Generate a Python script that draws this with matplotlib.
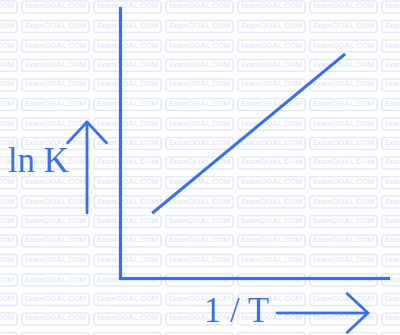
import matplotlib
matplotlib.use("Agg")
import matplotlib.pyplot as plt
from matplotlib.patches import FancyArrowPatch

# line data (arbitrary units, origin at the axes corner)
inv_T = [1.2, 8.4]
ln_K = [2.4, 8.3]
x_label = "1 / T"
y_label = "ln K"
watermark = "ExamGOAL.COM"

blue = "#3a6fec"
pale = "#e1e8f8"

fig = plt.figure(figsize=(4, 3.35), dpi=100)

# watermark tiles in the background
bg = fig.add_axes([0, 0, 1, 1])
bg.set_xlim(0, 400)
bg.set_ylim(335, 0)
bg.axis("off")
for row in range(18):
    for col in range(7):
        bg.text(-16.5 + col * 72, 7 + row * 19.5, watermark, fontsize=5.5,
                family="Liberation Sans", fontweight="bold", color=pale,
                ha="center", va="center",
                bbox=dict(boxstyle="round,pad=0.32,rounding_size=0.3", fc="none",
                          ec=pale, lw=1.0))

# main axes: only left and bottom spines
ax = fig.add_axes([0.3, 0.17, 0.67, 0.806])
ax.patch.set_alpha(0)
ax.set_xlim(0, 10)
ax.set_ylim(0, 10)
for s in ["top", "right"]:
    ax.spines[s].set_visible(False)
for s in ["left", "bottom"]:
    ax.spines[s].set_color(blue)
    ax.spines[s].set_linewidth(2.3)
ax.set_xticks([])
ax.set_yticks([])

ax.plot(inv_T, ln_K, color=blue, lw=2.2, solid_capstyle="butt")

# axis labels with arrows
fig.text(38 / 400, 1 - 164 / 335, y_label, fontsize=25, family="Liberation Serif",
         color=blue, ha="center", va="center")
fig.text(237 / 400, 1 - 313 / 335, x_label, fontsize=25, family="Liberation Serif",
         color=blue, ha="center", va="center")

arrow = dict(arrowstyle="->,head_length=1.5,head_width=1.4", color=blue, lw=2,
             mutation_scale=10, shrinkA=0, shrinkB=0, transform=None)
fig.add_artist(FancyArrowPatch((87, 335 - 213), (87, 335 - 120), **arrow))
fig.add_artist(FancyArrowPatch((277, 335 - 313), (370, 335 - 313), **arrow))

fig.savefig("out.png", dpi=100, facecolor="white")
